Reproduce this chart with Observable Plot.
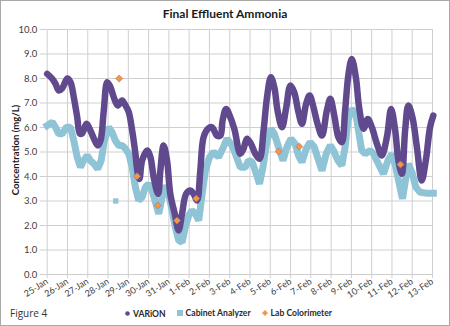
<!DOCTYPE html>
<html>
<head>
<meta charset="utf-8">
<script src="https://cdn.jsdelivr.net/npm/d3@7"></script>
<script src="https://cdn.jsdelivr.net/npm/@observablehq/plot@0.6"></script>
<style>
  html, body { margin: 0; padding: 0; background: #fff; }
  #wrap { position: relative; width: 450px; height: 326px; background: #fff; box-shadow: inset 0 0 0 1px #a8a8a8; overflow: hidden; font-family: Lato, "Open Sans", sans-serif; }
  #chart { position: absolute; left: 0; top: 0; }
  #title { position: absolute; left: 0; width: 450px; top: 6px; text-align: center; font-weight: bold; font-size: 12px; color: #1a1a1a; }
  #ytitle { position: absolute; left: 15px; top: 150px; transform: translate(-50%, -50%) rotate(-90deg); white-space: nowrap; font-weight: bold; font-size: 9.5px; color: #1a1a1a; }
  #fig { position: absolute; left: 10px; top: 306px; font-size: 10px; color: #333; font-family: "Open Sans", Lato, sans-serif; }
  #legend { position: absolute; top: 308px; left: 125px; font-size: 8.6px; font-weight: bold; color: #2a2a2a; white-space: nowrap; }
  #legend span.item { display: inline-flex; align-items: center; margin-right: 11px; }
  #legend svg { margin-right: 3px; }
</style>
</head>
<body>
<div id="wrap">
  <div id="chart"></div>
  <div id="title">Final Effluent Ammonia</div>
  <div id="ytitle">Concentration (mg/L)</div>
  <div id="fig">Figure 4</div>
  <div id="legend"></div>
</div>
<script>
// Day offsets from 25-Jan
const varionDays = [0.0,0.25,0.41,0.57,0.74,0.99,1.15,1.31,1.48,1.61,1.72,1.94,2.13,2.30,2.49,2.63,2.79,2.96,3.12,3.28,3.48,3.69,3.86,4.02,4.19,4.35,4.45,4.55,4.68,4.93,5.09,5.25,5.47,5.58,5.74,5.91,6.07,6.29,6.48,6.65,6.85,7.06,7.22,7.39,7.55,7.71,7.93,8.13,8.37,8.54,8.65,8.82,9.03,9.24,9.52,9.68,9.85,10.05,10.26,10.47,10.67,10.84,11.03,11.2,11.36,11.58,11.79,11.99,12.18,12.39,12.56,12.77,12.94,13.13,13.33,13.55,13.79,13.96,14.17,14.36,14.53,14.69,14.86,15.02,15.22,15.38,15.6,15.81,16.01,16.26,16.5,16.75,16.96,17.16,17.32,17.49,17.65,17.81,18.01,18.23,18.47,18.67,18.88,19.04];
const varionValues = [8.19,7.99,7.78,7.51,7.6,8.0,7.85,7.24,6.42,5.75,5.75,6.15,5.88,5.55,5.27,5.47,6.69,7.85,7.65,7.24,6.9,7.1,6.9,6.63,5.88,4.93,4.2,3.9,4.65,5.06,4.79,3.97,3.29,4.24,5.27,4.65,3.29,2.48,1.8,2.48,3.29,3.43,3.29,3.02,4.24,5.6,5.95,6.01,5.67,5.67,6.29,6.76,6.42,5.9,4.93,5.13,5.54,5.33,4.93,4.72,5.88,7.24,8.05,7.64,6.69,6.01,6.83,7.71,7.44,6.62,6.15,6.97,7.31,6.83,6.15,5.67,6.69,7.17,6.42,5.6,5.4,6.69,8.19,8.8,8.05,6.83,5.95,6.35,6.01,5.33,4.86,5.6,6.76,5.88,4.65,4.11,5.88,6.9,6.42,5.2,3.84,4.65,6.01,6.49];

const cabinetDays = [0.0,0.25,0.41,0.57,0.74,0.95,1.15,1.31,1.48,1.64,1.8,1.97,2.13,2.3,2.49,2.66,2.82,3.03,3.2,3.36,3.53,3.69,3.86,4.02,4.19,4.35,4.51,4.68,4.84,5.0,5.17,5.34,5.5,5.67,5.79,5.99,6.16,6.32,6.48,6.65,6.81,6.98,7.14,7.31,7.47,7.64,7.8,8.0,8.21,8.45,8.65,8.87,9.11,9.28,9.52,9.77,9.93,10.1,10.26,10.47,10.64,10.84,11.03,11.2,11.41,11.63,11.82,12.02,12.23,12.39,12.56,12.77,12.97,13.17,13.33,13.55,13.76,13.96,14.12,14.34,14.53,14.69,14.83,15.02,15.22,15.35,15.51,15.68,15.93,16.09,16.33,16.58,16.8,17.0,17.19,17.36,17.52,17.69,17.81,18.01,18.18,18.39,18.68,19.04];
const cabinetValues = [6.08,6.22,6.01,5.74,5.74,6.01,6.01,5.47,4.79,4.38,4.65,4.86,4.65,4.52,4.31,4.65,5.47,6.01,5.81,5.47,5.27,5.27,5.13,4.93,4.38,3.56,3.02,3.16,3.56,3.7,3.43,2.95,2.48,3.16,3.63,3.29,2.61,1.93,1.39,1.32,1.93,2.41,2.61,2.48,2.2,3.29,4.24,4.79,5.0,4.79,5.13,5.54,5.27,4.93,4.38,4.38,4.65,4.6,4.24,3.7,4.38,5.47,5.95,5.74,5.2,4.65,5.2,5.54,5.33,4.86,4.58,5.13,5.4,5.2,4.79,4.24,4.93,5.27,5.06,4.65,4.45,5.2,6.29,6.76,6.56,5.88,5.06,4.93,5.06,4.93,4.52,4.11,4.65,4.93,4.38,3.7,3.09,3.97,4.52,4.11,3.56,3.36,3.32,3.32];
const cabinetOutlierDays = [3.38];
const cabinetOutlierValues = [3.0];

const labDays = [3.55,4.43,5.45,6.4,7.35,11.41,12.43,17.42];
const labValues = [8.0,4.01,2.82,2.2,3.1,5.02,5.22,4.49];

const tickDays = d3.range(0, 20);
const yTicks = d3.range(0, 11);

const seriesNames = ["VARiON", "Cabinet Analyzer", "Lab Colorimeter"];
const seriesColors = ["#604a8d", "#8fc4d6", "#f7963f"];

const base = Date.UTC(2016, 0, 25);
const toDate = d => new Date(base + d * 86400000);
const zip = (ds, vs) => ds.map((d, i) => ({date: toDate(d), value: vs[i]}));

const varion = zip(varionDays, varionValues);
const cabinet = zip(cabinetDays, cabinetValues);
const cabinetOut = zip(cabinetOutlierDays, cabinetOutlierValues);
const lab = zip(labDays, labValues);
const tickDates = tickDays.map(toDate);

const chart = Plot.plot({
  width: 450,
  height: 326,
  marginTop: 29,
  marginBottom: 52,
  marginLeft: 46.7,
  marginRight: 18,
  style: {fontFamily: "Lato, sans-serif", fontSize: "9.5px", background: "transparent", color: "#404040"},
  x: {type: "utc", domain: [toDate(0), toDate(19)], label: null},
  y: {domain: [0, 10], label: null},
  marks: [
    Plot.gridX(tickDates, {stroke: "#cfcfcf", strokeOpacity: 1}),
    Plot.gridY(yTicks, {stroke: "#cfcfcf", strokeOpacity: 1}),
    Plot.axisY(yTicks, {tickSize: 7, tickPadding: 3, stroke: "#cfcfcf", fill: "#404040", tickFormat: d3.format(".1f")}),
    Plot.axisX(tickDates, {tickSize: 4, tickPadding: 2, tickRotate: -33, fontSize: 9, stroke: "#cfcfcf", fill: "#404040", tickFormat: d3.utcFormat("%-d-%b")}),
    Plot.line(cabinet, {x: "date", y: "value", stroke: seriesColors[1], strokeWidth: 7, strokeLinejoin: "miter", strokeLinecap: "square"}),
    Plot.dot(cabinetOut, {x: "date", y: "value", symbol: "square", r: 3, fill: seriesColors[1]}),
    Plot.line(varion, {x: "date", y: "value", stroke: seriesColors[0], strokeWidth: 6.5, curve: "catmull-rom"}),
    Plot.dot(lab, {x: "date", y: "value", symbol: "diamond2", r: 3.2, fill: seriesColors[2], stroke: "#8a7a9a", strokeWidth: 0.6})
  ]
});
document.getElementById("chart").appendChild(chart);

// legend
const legend = document.getElementById("legend");
const symbols = [
  '<svg width="5" height="5"><circle cx="2.5" cy="2.5" r="2.3" fill="' + seriesColors[0] + '"/></svg>',
  '<svg width="6" height="6"><rect x="0" y="0" width="6" height="6" fill="' + seriesColors[1] + '"/></svg>',
  '<svg width="6" height="6"><path d="M3 0 L6 3 L3 6 L0 3 Z" fill="' + seriesColors[2] + '"/></svg>'
];
seriesNames.forEach((n, i) => {
  const s = document.createElement("span");
  s.className = "item";
  s.innerHTML = symbols[i] + "<span>" + n + "</span>";
  legend.appendChild(s);
});
</script>
</body>
</html>
